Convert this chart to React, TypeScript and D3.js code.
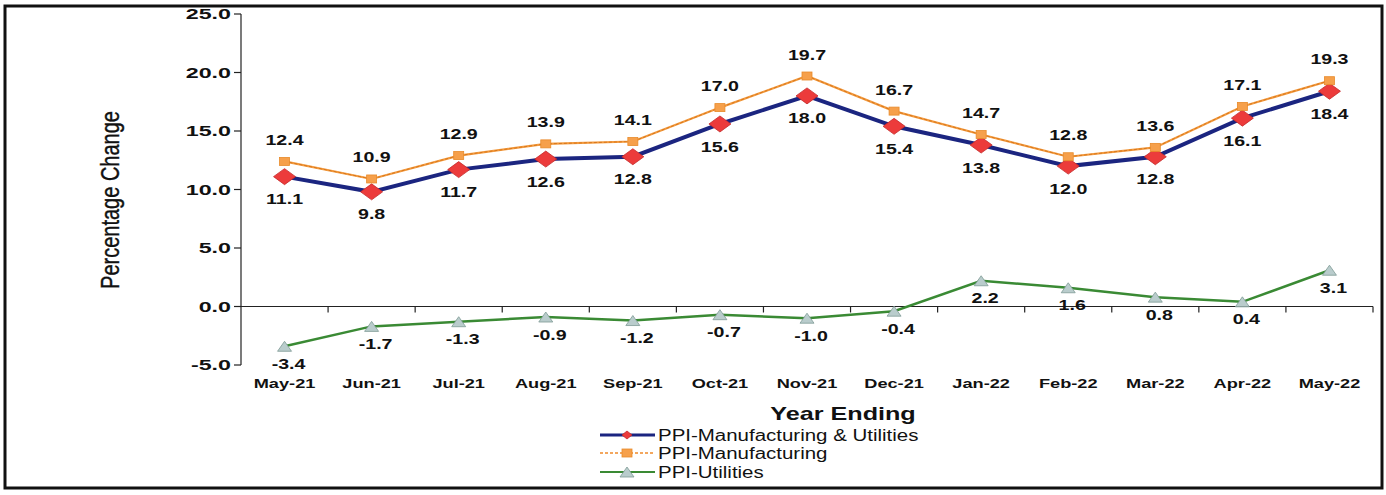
import React from "react";
import * as d3 from "d3";

const months = ["May-21", "Jun-21", "Jul-21", "Aug-21", "Sep-21", "Oct-21", "Nov-21", "Dec-21", "Jan-22", "Feb-22", "Mar-22", "Apr-22", "May-22"];
const mfgUtil = [11.1, 9.8, 11.7, 12.6, 12.8, 15.6, 18.0, 15.4, 13.8, 12.0, 12.8, 16.1, 18.4];
const mfg = [12.4, 10.9, 12.9, 13.9, 14.1, 17.0, 19.7, 16.7, 14.7, 12.8, 13.6, 17.1, 19.3];
const util = [-3.4, -1.7, -1.3, -0.9, -1.2, -0.7, -1.0, -0.4, 2.2, 1.6, 0.8, 0.4, 3.1];
const yTicks = [-5, 0, 5, 10, 15, 20, 25];
const seriesNames = ["PPI-Manufacturing & Utilities", "PPI-Manufacturing", "PPI-Utilities"];

const FONT = "Liberation Sans, Arial, sans-serif";
const SX = 1.4; // the scan is stretched sideways

interface ITxtProps {
    x: number;
    y: number;
    size: number;
    bold?: boolean;
    anchor?: "start" | "middle" | "end";
    sx?: number;
    children: React.ReactNode;
}
function Txt(props: ITxtProps) {
    const { x, y, size, bold, anchor = "middle", sx = SX, children } = props;
    return <text transform={`translate(${x},${y}) scale(${sx},1)`}
        fontFamily={FONT} fontSize={size} fontWeight={bold ? "bold" : "normal"}
        textAnchor={anchor} dominantBaseline="central" fill="#111">{children}</text>;
}

function Diamond({ cx, cy, w = 11, h = 8 }: { cx: number, cy: number, w?: number, h?: number }) {
    return <path d={`M${cx - w},${cy}L${cx},${cy - h}L${cx + w},${cy}L${cx},${cy + h}Z`} fill="#ec3b3b" stroke="#c42a2a" strokeWidth={0.8} />;
}
function Square({ cx, cy }: { cx: number, cy: number }) {
    return <rect x={cx - 5} y={cy - 4} width={10} height={8} fill="#f6a04b" stroke="#e88a2a" strokeWidth={0.8} />;
}
function Tri({ cx, cy }: { cx: number, cy: number }) {
    return <path d={`M${cx - 7},${cy + 5}L${cx},${cy - 5}L${cx + 7},${cy + 5}Z`} fill="#b9cccc" stroke="#7f9a96" strokeWidth={0.8} />;
}

export default function App() {
    const width = 1386, height = 495;
    const x = d3.scaleBand<string>().domain(months).range([241, 1373]).padding(0);
    const y = d3.scaleLinear().domain([-5, 25]).range([365, 14]);
    const cx = (i: number) => x(months[i])! + x.bandwidth() / 2;

    const line = d3.line<number>().x((d, i) => cx(i)).y((d) => y(d));

    const legendX = 600;
    const legendRows = [435, 453, 472];

    return <svg width={width} height={height} style={{ position: "absolute", left: 0, top: 0, background: "#fff" }}>
        {/* frame */}
        <rect x={5} y={6} width={1377} height={482} fill="none" stroke="#111" strokeWidth={3} />

        {/* y axis */}
        <line x1={241} x2={241} y1={y(25)} y2={y(-5)} stroke="#222" strokeWidth={1.2} />
        {yTicks.map((t) => (
            <g key={t}>
                <line x1={234} x2={241} y1={y(t)} y2={y(t)} stroke="#222" strokeWidth={1.2} />
                <Txt x={231} y={y(t)} size={15} sx={1.55} bold anchor="end">{t.toFixed(1)}</Txt>
            </g>
        ))}

        {/* x axis at zero */}
        <line x1={241} x2={1373} y1={y(0)} y2={y(0)} stroke="#222" strokeWidth={1.2} />
        {months.map((m, i) => (
            <g key={m}>
                <line x1={x(m)! + x.bandwidth()} x2={x(m)! + x.bandwidth()} y1={y(0)} y2={y(0) + 6} stroke="#222" strokeWidth={1.2} />
                <Txt x={cx(i)} y={383} size={13} bold>{m}</Txt>
            </g>
        ))}

        <text transform={`translate(110,200) rotate(-90) scale(1,1.3)`} fontFamily={FONT} fontSize={20}
            textAnchor="middle" dominantBaseline="central" fill="#111" stroke="#111" strokeWidth={0.3}>Percentage Change</text>

        {/* lines */}
        <path d={line(util)!} fill="none" stroke="#3a8a34" strokeWidth={2.5} />
        <path d={line(mfgUtil)!} fill="none" stroke="#1b2580" strokeWidth={4} />
        <path d={line(mfg)!} fill="none" stroke="#f39a3e" strokeWidth={2.2} />
        <path d={line(mfg)!} fill="none" stroke="#d9781c" strokeWidth={1} strokeDasharray="3,2" />

        {/* markers */}
        {util.map((v, i) => <Tri key={i} cx={cx(i)} cy={y(v)} />)}
        {mfgUtil.map((v, i) => <Diamond key={i} cx={cx(i)} cy={y(v)} />)}
        {mfg.map((v, i) => <Square key={i} cx={cx(i)} cy={y(v)} />)}

        {/* data labels */}
        {mfg.map((v, i) => <Txt key={i} x={cx(i)} y={y(v) - 21} size={14} bold>{v.toFixed(1)}</Txt>)}
        {mfgUtil.map((v, i) => <Txt key={i} x={cx(i)} y={y(v) + 23} size={14} bold>{v.toFixed(1)}</Txt>)}
        {util.map((v, i) => <Txt key={i} x={cx(i) + 4} y={y(v) + 18} size={14} bold>{v.toFixed(1)}</Txt>)}

        {/* axis title */}
        <Txt x={843} y={414} size={18} bold>Year Ending</Txt>

        {/* legend */}
        <line x1={legendX} x2={legendX + 55} y1={legendRows[0]} y2={legendRows[0]} stroke="#1b2580" strokeWidth={3} />
        <Diamond cx={legendX + 27} cy={legendRows[0]} w={5} h={4} />
        <line x1={legendX} x2={legendX + 55} y1={legendRows[1]} y2={legendRows[1]} stroke="#f08a2a" strokeWidth={1.6} strokeDasharray="3,2" />
        <Square cx={legendX + 27} cy={legendRows[1]} />
        <line x1={legendX} x2={legendX + 55} y1={legendRows[2]} y2={legendRows[2]} stroke="#3a8a34" strokeWidth={2} />
        <Tri cx={legendX + 27} cy={legendRows[2]} />
        {seriesNames.map((n, i) => (
            <Txt key={n} x={legendX + 58} y={legendRows[i]} size={16} sx={1.28} anchor="start">{n}</Txt>
        ))}
    </svg>;
}
